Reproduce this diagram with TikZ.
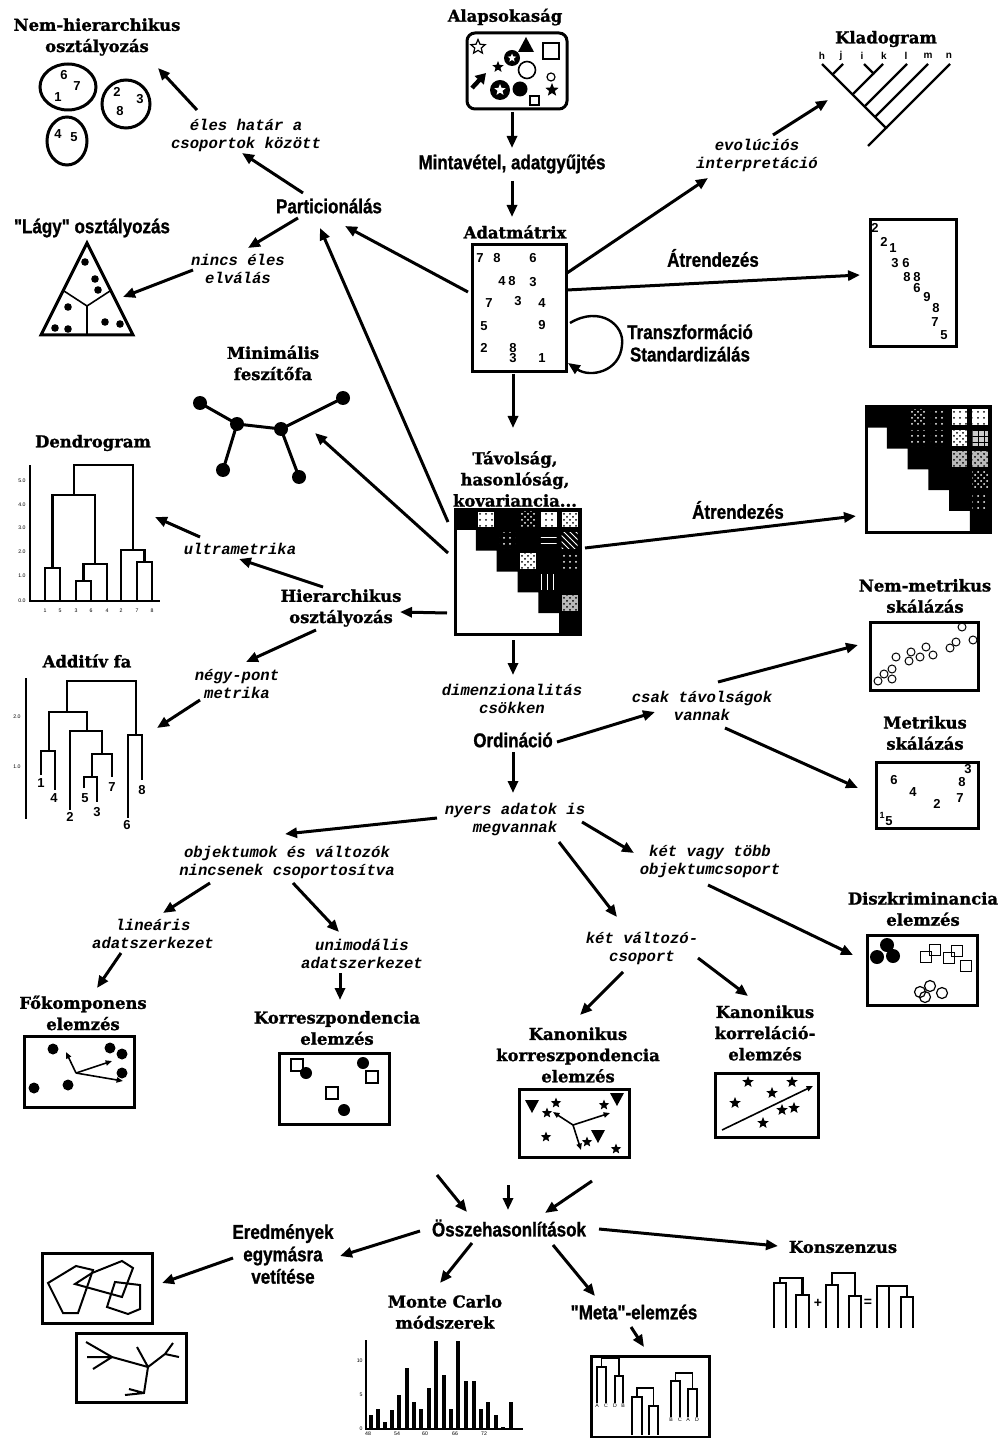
\documentclass[tikz,border=0pt]{standalone}
\usepackage{fontspec}
\newfontfamily\slabfam{DejaVu Serif}[BoldFeatures={FakeBold=1.3}]
\newfontfamily\condfam{Liberation Sans}[FakeStretch=0.85,BoldFeatures={FakeBold=1}]
\newfontfamily\monofam{Liberation Mono}
\newfontfamily\numfam{Liberation Sans}
\usetikzlibrary{arrows.meta,calc,patterns,shapes.geometric}
\newcommand\mcell[6]{% x0,y0,c,row,col,options
  \path[#6] ({#1+(#5-1)*#3+2.5},{#2+(#4-1)*#3+2.5}) rectangle ({#1+#5*#3-2.5},{#2+#4*#3-2.5});}
\newcommand\stair[3]{% x0,y0,c
  \fill (#1,#2) -- ({#1+6*#3},#2) -- ({#1+6*#3},{#2+6*#3}) -- ({#1+5*#3},{#2+6*#3}) -- ({#1+5*#3},{#2+5*#3})
   -- ({#1+4*#3},{#2+5*#3}) -- ({#1+4*#3},{#2+4*#3}) -- ({#1+3*#3},{#2+4*#3}) -- ({#1+3*#3},{#2+3*#3})
   -- ({#1+2*#3},{#2+3*#3}) -- ({#1+2*#3},{#2+2*#3}) -- ({#1+1*#3},{#2+2*#3}) -- ({#1+1*#3},{#2+1*#3})
   -- (#1,{#2+#3}) -- cycle;}
\begin{document}
\begin{tikzpicture}[x=0.5pt,y=-0.5pt,
  slabf/.style={font=\slabfam\bfseries\fontsize{8.2}{10.6}\selectfont, align=center, inner sep=0pt},
  condf/.style={font=\condfam\bfseries\fontsize{10}{11.2}\selectfont, align=center, inner sep=0pt},
  monof/.style={font=\monofam\bfseries\itshape\fontsize{7.8}{9}\selectfont, align=center, inner sep=0pt},
  numf/.style={font=\numfam\bfseries\fontsize{6.5}{7}\selectfont, inner sep=0pt},
  tinyf/.style={font=\numfam\fontsize{2.6}{3}\selectfont, inner sep=0pt},
  arr/.style={line width=1.5pt, -{Triangle[length=6pt,width=5pt]}},
  sarr/.style={line width=0.8pt, -{Triangle[length=3.2pt,width=2.6pt]}},
  bx/.style={draw, line width=1.5pt, inner sep=0pt},
  pstar/.style={star, star points=5, star point ratio=2.3, fill=black, inner sep=0pt, minimum size=#1},
  wdots/.style={fill=white, postaction={pattern=dots}},
  wcross/.style={fill=white, postaction={pattern=crosshatch dots}},
  bdots/.style={fill=black, postaction={pattern=dots, pattern color=white}},
  bcross/.style={fill=black, postaction={pattern=crosshatch dots, pattern color=white}},
  bhl/.style={fill=black, postaction={pattern=horizontal lines, pattern color=white}},
  bvl/.style={fill=black, postaction={pattern=vertical lines, pattern color=white}},
  bnw/.style={fill=black, postaction={pattern=north west lines, pattern color=white}},
  gcell/.style={fill=gray!55, postaction={pattern=crosshatch dots}},
  dgcell/.style={fill=gray!40, postaction={pattern=grid}},
  tree/.style={line width=1.3pt},
]
\useasboundingbox (0,0) rectangle (1007,1438);
\fill[white] (0,0) rectangle (1007,1438);

%================ TOP CENTRE =================
\node[slabf] (alapT) at (505,17) {Alapsokaság};
\node[bx, rounded corners=4pt, minimum width=50pt, minimum height=38pt] (alapB) at (517,71) {};
% population contents
\node[star, star points=5, star point ratio=2.2, draw, line width=0.6pt, inner sep=0pt, minimum size=7.5pt] at (478,47) {};
\fill (526,37) -- (534,52) -- (518,52) -- cycle;
\draw[line width=1pt] (543,43) rectangle (559,59);
\fill (512,58) circle (8); \node[pstar=4.5pt, fill=white] at (512,58) {};
\node[pstar=6pt] at (498,67) {};
\draw[line width=0.8pt] (527,70) circle (8.5);
\draw[line width=0.6pt] (551,77) circle (4);
\draw[line width=2.2pt, -{Triangle[length=5pt,width=6pt]}] (472,88) -- (486,73);
\fill (500,90) circle (10); \node[pstar=6pt, fill=white] at (500,90) {};
\fill (520,89) circle (7.5);
\draw[line width=0.7pt] (530,96) rectangle (539,105);
\node[pstar=7pt] at (552,90) {};

\node[condf] (minta) at (512,164) {Mintavétel, adatgyűjtés};
\node[slabf] (adatT) at (515,232) {Adatmátrix};
\node[bx, minimum width=47pt, minimum height=63.5pt] (adatB) at (519,308.5) {};
\foreach \x/\y/\t in {480/258/7, 497/258/8, 533/258/6, 502/281/4, 512/281/8, 533/282/3,
  489/303/7, 518/301/3, 542/303/4, 484/326/5, 542/325/9, 484/348/2, 513/348/8, 513/358/3, 542/358/1}
  \node[numf] at (\x,\y) {\t};
\node[condf] (trans) at (690,343) {Transzformáció\\Standardizálás};
\node[slabf] (tavT) at (515,479) {Távolság,\\hasonlóság,\\kovariancia...};

% distance matrix
\stair{455}{509}{20.833}
\mcell{455}{509}{20.833}{1}{2}{wdots}
\mcell{455}{509}{20.833}{1}{4}{bcross}
\mcell{455}{509}{20.833}{1}{5}{wdots}
\mcell{455}{509}{20.833}{1}{6}{wcross}
\mcell{455}{509}{20.833}{2}{3}{bdots}
\mcell{455}{509}{20.833}{2}{5}{bhl}
\mcell{455}{509}{20.833}{2}{6}{bnw}
\mcell{455}{509}{20.833}{3}{4}{wcross}
\mcell{455}{509}{20.833}{3}{6}{bdots}
\mcell{455}{509}{20.833}{4}{5}{bvl}
\mcell{455}{509}{20.833}{5}{6}{gcell}
\node[bx, minimum width=62.5pt, minimum height=62.5pt] (tavM) at (517.5,571.5) {};

%================ TOP RIGHT =================
\node[condf] (atr1) at (713,258) {Átrendezés};
\node[bx, minimum width=43pt, minimum height=63.5pt] (reord1) at (913,283.5) {};
\foreach \x/\y/\t in {875/228/2, 884/242/2, 893/248/1, 895/263/3, 906/263/6, 907/277/8, 917/277/8,
  917/288/6, 927/297/9, 936/308/8, 935/322/7, 944/335/5}
  \node[numf] at (\x,\y) {\t};
\node[monof] (evol) at (757,155) {evolúciós\\interpretáció};
\node[slabf] (kladT) at (886,39) {Kladogram};
\coordinate (kladG) at (828,100);
\foreach \x/\t in {822/h, 841/j, 862/i, 884/k, 906/l, 928/m, 949/n}
  \node[font=\numfam\bfseries\fontsize{5}{6}\selectfont, inner sep=0pt] at (\x,56) {\t};
\draw[line width=1.2pt] (822,64) -- (886,128) -- (868,146);
\draw[line width=1.2pt] (886,128) -- (950,64);
\draw[line width=1.2pt] (843,64) -- (832.5,74.5);
\draw[line width=1.2pt] (864,64) -- (873.5,73.5) -- (883,64);
\draw[line width=1.2pt] (873.5,73.5) -- (852.5,94.5);
\draw[line width=1.2pt] (907,64) -- (864.5,106.5);
\draw[line width=1.2pt] (928,64) -- (875,117);

%================ TOP LEFT =================
\node[slabf] (nemhT) at (97,37) {Nem-hierarchikus\\osztályozás};
\coordinate (nemhG) at (158,68);
\draw[line width=1.5pt] (68,87) ellipse (28 and 23);
\draw[line width=1.5pt] (126,104) circle (24);
\draw[line width=1.5pt] (67,141) ellipse (20 and 24);
\foreach \x/\y/\t in {64/75/6, 77/86/7, 58/97/1, 117/92/2, 140/99/3, 120/111/8, 58/134/4, 74/137/5}
  \node[numf] at (\x,\y) {\t};
\node[monof] (eles) at (246,135) {éles határ a\\csoportok között};
\node[condf] (part) at (329,206) {Particionálás};
\node[condf] (lagyT) at (92,228) {"Lágy" osztályozás};
\coordinate (lagyG) at (123,297);
\draw[line width=1.5pt, line join=miter] (87,243) -- (133,335) -- (41,335) -- cycle;
\draw[line width=0.8pt] (64,291) -- (87,306) -- (110,291) (87,306) -- (87,335);
\foreach \x/\y in {85/262, 95/279, 98/290, 68/307, 55/328, 68/329, 105/322, 120/324}
  \fill (\x,\y) circle (3.8);
\node[monof] (nincs) at (238,269) {nincs éles\\elválás};

%================ MST / DENDROGRAM =================
\node[slabf] (minT) at (273,363) {Minimális\\feszítőfa};
\coordinate (mstG) at (315,433);
\draw[line width=1.5pt] (200,403) -- (237,424) -- (281,429) -- (343,398) (237,424) -- (223,470) (281,429) -- (299,477);
\foreach \x/\y in {200/403, 237/424, 281/429, 343/398, 223/470, 299/477}
  \fill (\x,\y) circle (7);

\node[slabf] (dendT) at (93,443) {Dendrogram};
\coordinate (dendG) at (155,517);
\draw[tree] (30,465) -- (30,601) -- (160,601);
\draw[tree] (45,601) -- (45,568) -- (60,568) -- (60,601);
\draw[tree] (76,601) -- (76,581) -- (91,581) -- (91,601);
\draw[tree] (83.5,581) -- (83.5,564) -- (107,564) -- (107,601);
\draw[tree] (52.5,568) -- (52.5,495) -- (95,495) -- (95,564);
\draw[tree] (137,601) -- (137,562) -- (152,562) -- (152,601);
\draw[tree] (121,601) -- (121,550) -- (144.5,550) -- (144.5,562);
\draw[tree] (74,495) -- (74,465) -- (133,465) -- (133,550);
\foreach \y/\t in {481/5.0, 505/4.0, 528/3.0, 552/2.0, 576/1.0, 601/0.0}
  \node[tinyf] at (22,\y) {\t};
\foreach \x/\t in {45/1, 60/5, 76/3, 91/6, 107/4, 121/2, 137/7, 152/8}
  \node[tinyf] at (\x,611) {\t};
\node[monof] (ultra) at (240,549) {ultrametrika};
\node[slabf] (hier) at (341,608) {Hierarchikus\\osztályozás};
\node[monof] (negy) at (237,684) {négy-pont\\metrika};
\node[slabf] (addT) at (87,661) {Additív fa};
\coordinate (addG) at (157,728);
\draw[tree] (26,678) -- (26,819);
\node[tinyf] at (17,717) {2.0};
\node[tinyf] at (17,767) {1.0};
\draw[tree] (67,712) -- (67,681) -- (136,681) -- (136,735);
\draw[tree] (49,751) -- (49,712) -- (87,712) -- (87,731);
\draw[tree] (41,775) -- (41,751) -- (55,751) -- (55,790);
\draw[tree] (70,810) -- (70,731) -- (102,731) -- (102,754);
\draw[tree] (92,777) -- (92,754) -- (112,754) -- (112,777);
\draw[tree] (84,788) -- (84,777) -- (97,777) -- (97,802);
\draw[tree] (128,818) -- (128,735) -- (142,735) -- (142,780);
\foreach \x/\y/\t in {41/783/1, 54/798/4, 70/817/2, 85/798/5, 97/812/3, 112/787/7, 127/825/6, 142/790/8}
  \node[numf] at (\x,\y) {\t};

%================ RIGHT MIDDLE =================
\node[condf] (atr2) at (738,510) {Átrendezés};
\stair{866}{407}{20.75}
\mcell{866}{407}{20.75}{1}{3}{bcross}
\mcell{866}{407}{20.75}{1}{4}{bdots}
\mcell{866}{407}{20.75}{1}{5}{wdots}
\mcell{866}{407}{20.75}{1}{6}{wdots}
\mcell{866}{407}{20.75}{2}{3}{bdots}
\mcell{866}{407}{20.75}{2}{4}{bdots}
\mcell{866}{407}{20.75}{2}{5}{wcross}
\mcell{866}{407}{20.75}{2}{6}{dgcell}
\mcell{866}{407}{20.75}{3}{5}{gcell}
\mcell{866}{407}{20.75}{3}{6}{gcell}
\mcell{866}{407}{20.75}{4}{6}{bcross}
\mcell{866}{407}{20.75}{5}{6}{bdots}
\node[bx, minimum width=62pt, minimum height=62.5pt] (reord2) at (928,469.5) {};

\node[monof] (dimen) at (512,699) {dimenzionalitás\\csökken};
\node[condf] (ordi) at (513,740) {Ordináció};
\node[monof] (csak) at (702,706) {csak távolságok\\vannak};
\node[slabf] (nmT) at (925,596) {Nem-metrikus\\skálázás};
\node[bx, minimum width=54pt, minimum height=34pt] (nmB) at (924,656) {};
\foreach \x/\y in {962/627, 973/640, 956/642, 950/648, 926/647, 933/655, 911/652, 920/657,
  909/661, 896/657, 892/669, 884/674, 892/679, 878/681}
  \draw[line width=0.5pt] (\x,\y) circle (4);
\node[slabf] (mT) at (925,733) {Metrikus\\skálázás};
\node[bx, minimum width=51pt, minimum height=33pt] (mB) at (927,795) {};
\foreach \x/\y/\t in {968/769/3, 962/782/8, 894/780/6, 913/792/4, 960/798/7, 937/804/2, 889/821/5}
  \node[numf] at (\x,\y) {\t};
\node[font=\numfam\bfseries\fontsize{4.5}{5}\selectfont, inner sep=0pt] at (882,815) {1};

%================ ORDINATION BRANCHES =================
\node[monof] (nyers) at (515,819) {nyers adatok is\\megvannak};
\node[monof] (objk) at (287,862) {objektumok és változók\\nincsenek csoportosítva};
\node[monof] (lin) at (153,934) {lineáris\\adatszerkezet};
\node[slabf] (fkT) at (83,1013) {Főkomponens\\elemzés};
\node[bx, minimum width=55pt, minimum height=35.5pt] (fkB) at (79,1071.5) {};
\foreach \x/\y in {53/1049, 110/1048, 122/1054, 122/1073, 34/1088, 68/1085}
  \fill (\x,\y) circle (5.5);
\draw[sarr] (76,1073) -- (66,1052);
\draw[sarr] (76,1073) -- (112,1061);
\draw[sarr] (76,1073) -- (123,1081);

\node[monof] (unim) at (362,954) {unimodális\\adatszerkezet};
\node[slabf] (caT) at (337,1028) {Korreszpondencia\\elemzés};
\node[bx, minimum width=55pt, minimum height=35.5pt] (caB) at (334,1088.5) {};
\foreach \x/\y in {297/1065, 372/1077, 332/1093}
  \draw[line width=1pt] (\x-6,\y-6) rectangle (\x+6,\y+6);
\foreach \x/\y in {306/1073, 363/1063, 344/1110}
  \fill (\x,\y) circle (6);

\node[monof] (ketv) at (710,861) {két vagy több\\objektumcsoport};
\node[slabf] (discT) at (923,909) {Diszkriminancia\\elemzés};
\node[bx, minimum width=55pt, minimum height=35pt] (discB) at (922,970) {};
\foreach \x/\y in {877/957, 887/945, 893/956}
  \fill (\x,\y) circle (7);
\foreach \x/\y in {926/957, 935/950, 949/958, 957/951, 966/966}
  \draw[line width=0.6pt] (\x-5.5,\y-5.5) rectangle (\x+5.5,\y+5.5);
\foreach \x/\y in {920/992, 930/986, 925/997, 942/993}
  \draw[line width=0.6pt] (\x,\y) circle (5.5);

\node[monof] (ketc) at (642,948) {két változó-\\csoport};
\node[slabf] (ccaT) at (578,1055) {Kanonikus\\korreszpondencia\\elemzés};
\node[bx, minimum width=55pt, minimum height=34pt] (ccaB) at (574,1123) {};
\foreach \x/\y in {532/1106, 617/1099, 598/1136}
  \fill (\x-7,\y-6) -- (\x+7,\y-6) -- (\x,\y+7) -- cycle;
\foreach \x/\y in {556/1103, 547/1113, 604/1105, 546/1137, 587/1142, 616/1149}
  \node[pstar=5.5pt] at (\x,\y) {};
\draw[sarr] (573,1125) -- (553,1112);
\draw[sarr] (573,1125) -- (610,1113);
\draw[sarr] (573,1125) -- (581,1150);

\node[slabf] (ccorT) at (765,1033) {Kanonikus\\korreláció-\\elemzés};
\node[bx, minimum width=51.5pt, minimum height=32pt] (ccorB) at (766.5,1105) {};
\foreach \x/\y in {748/1082, 792/1082, 772/1093, 735/1103, 782/1110, 794/1108, 763/1123}
  \node[pstar=6pt] at (\x,\y) {};
\draw[sarr] (722,1130) -- (813,1086);

%================ COMPARISONS =================
\coordinate (in1) at (437,1175);
\coordinate (in2) at (508,1185);
\coordinate (in3) at (592,1181);
\node[condf] (ossz) at (509,1228) {Összehasonlítások};
\node[condf] (ered) at (283,1254) {Eredmények\\egymásra\\vetítése};
\node[bx, minimum width=55pt, minimum height=35pt] (eB1) at (97,1288) {};
\draw[line width=1pt] (48,1283) -- (76,1266) -- (93,1270) -- (78,1313) -- (63,1313) -- cycle;
\draw[line width=1pt] (75,1284) -- (92,1273) -- (122,1261) -- (133,1268) -- (122,1297) -- cycle;
\draw[line width=1pt] (115,1282) -- (140,1285) -- (140,1309) -- (128,1314) -- (107,1307) -- cycle;
\node[bx, minimum width=55pt, minimum height=34.5pt] (eB2) at (131,1367.5) {};
\draw[line width=1pt] (86,1342) -- (112,1357) -- (148,1367);
\draw[line width=1pt] (87,1357) -- (112,1357) (93,1369) -- (112,1357);
\draw[line width=1pt] (137,1347) -- (148,1367) -- (165,1354) -- (173,1343) (165,1354) -- (179,1357);
\draw[line width=1pt] (148,1367) -- (144,1393) -- (125,1395) (144,1393) -- (129,1389);

\node[slabf] (monteT) at (445,1312) {Monte Carlo\\módszerek};
\foreach \x/\h in {371/2, 378/3, 385/1, 392/2.8, 399/5, 407/9, 414/4, 421/3, 429/6, 436/12.9,
  444/8, 451/3, 458/12.9, 466/7, 474/7, 481/3, 488/4, 496/2, 503/0.25, 511/4, 520/0.15}
  \fill ({\x-2.2},1429) rectangle ({\x+2.2},{1429-6.8*\h});
\draw[line width=1pt] (366,1340) -- (366,1429) -- (523,1429);
\foreach \y/\t in {1361/10, 1395/5, 1429/0}
  \node[tinyf, anchor=east] at (363,\y) {\t};
\foreach \x/\t in {368/48, 397/54, 425/60, 455/66, 484/72}
  \node[tinyf] at (\x,1434) {\t};

\node[condf] (metaT) at (634,1312) {"Meta"-elemzés};
\node[bx, minimum width=59pt, minimum height=40.5pt] (metaB) at (650,1396.5) {};
\draw[line width=0.8pt] (597,1403) -- (597,1367) -- (606,1367) -- (606,1403);
\draw[line width=0.8pt] (615,1403) -- (615,1376) -- (623,1376) -- (623,1403);
\draw[line width=0.8pt] (601.5,1367) -- (601.5,1358) -- (619,1358) -- (619,1376);
\draw[line width=0.8pt] (632,1435) -- (632,1397) -- (642,1397) -- (642,1435);
\draw[line width=0.8pt] (649,1435) -- (649,1406) -- (658,1406) -- (658,1435);
\draw[line width=0.8pt] (637,1397) -- (637,1388) -- (653.5,1388) -- (653.5,1406);
\draw[line width=0.8pt] (671,1417) -- (671,1381) -- (680,1381) -- (680,1417);
\draw[line width=0.8pt] (688,1417) -- (688,1389) -- (697,1389) -- (697,1417);
\draw[line width=0.8pt] (675.5,1381) -- (675.5,1373) -- (692.5,1373) -- (692.5,1389);
\foreach \x/\t in {597/A, 606/C, 615/D, 623/B}
  \node[tinyf] at (\x,1406) {\t};
\foreach \x/\t in {671/B, 680/C, 688/A, 697/D}
  \node[tinyf] at (\x,1420) {\t};

\node[slabf] (konszT) at (843,1247) {Konszenzus};
\draw[tree] (774,1328) -- (774,1283) -- (786,1283) -- (786,1328);
\draw[tree] (796,1328) -- (796,1295) -- (809,1295) -- (809,1328);
\draw[tree] (780,1283) -- (780,1278) -- (802.5,1278) -- (802.5,1295);
\node[font=\numfam\bfseries\fontsize{7}{8}\selectfont, inner sep=0pt] at (818,1303) {+};
\draw[tree] (826,1328) -- (826,1285) -- (838,1285) -- (838,1328);
\draw[tree] (849,1328) -- (849,1296) -- (861,1296) -- (861,1328);
\draw[tree] (832,1285) -- (832,1273) -- (855,1273) -- (855,1296);
\node[font=\numfam\bfseries\fontsize{7}{8}\selectfont, inner sep=0pt] at (868,1303) {=};
\draw[tree] (877,1328) -- (877,1286) -- (907,1286) -- (907,1297);
\draw[tree] (889,1286) -- (889,1328);
\draw[tree] (901,1328) -- (901,1297) -- (913,1297) -- (913,1328);

%================ CONNECTORS =================
\draw[arr] ($(alapB)+(-5,41)$) -- ($(minta)+(0,-16)$);
\draw[arr] ($(minta)+(0,17)$) -- ($(adatT)+(-3,-15)$);
\draw[arr] ($(adatB)+(-6,65.5)$) -- ($(tavT)+(-2,-51)$);
\draw[arr] ($(adatB)+(48,-35.5)$) -- ($(evol)+(-49,23)$);
\draw[arr] ($(evol)+(16,-20)$) -- (kladG);
\draw[arr] ($(adatB)+(48,-18.5)$) -- ($(reord1)+(-53,-8.5)$);
\draw[line width=1.2pt, -{Triangle[length=6pt,width=5pt]}] ($(adatB)+(51,14.5)$)
   .. controls ($(adatB)+(81,-3.5)$) and ($(adatB)+(106,16.5)$) .. ($(adatB)+(103,36.5)$)
   .. controls ($(adatB)+(101,63.5)$) and ($(adatB)+(71,69.5)$) .. ($(adatB)+(49,54.5)$);
\draw[arr] ($(adatB)+(-51,-16.5)$) -- ($(part)+(16,20)$);
\draw[arr] ($(tavM)+(-69.5,-49.5)$) -- ($(part)+(-9,22)$);
\draw[arr] ($(part)+(-26,-13)$) -- ($(eles)+(-4,18)$);
\draw[arr] ($(eles)+(-49,-25)$) -- (nemhG);
\draw[arr] ($(part)+(-31,12)$) -- ($(nincs)+(10,-21)$);
\draw[arr] ($(nincs)+(-45,1)$) -- (lagyG);
\draw[arr] ($(tavM)+(-69.5,-18.5)$) -- (mstG);
\draw[arr] ($(tavM)+(-70.5,41.5)$) -- ($(hier)+(59,4)$);
\draw[arr] ($(hier)+(-18,-21)$) -- ($(ultra)+(-1,10)$);
\draw[arr] ($(ultra)+(-40,-12)$) -- (dendG);
\draw[arr] ($(hier)+(-25,22)$) -- ($(negy)+(9,-22)$);
\draw[arr] ($(negy)+(-37,16)$) -- (addG);
\draw[arr] ($(tavM)+(67.5,-23.5)$) -- ($(reord2)+(-72,46.5)$);
\draw[arr] ($(tavM)+(-4.5,68.5)$) -- ($(dimen)+(1,-24)$);
\draw[arr] ($(ordi)+(44,2)$) -- ($(csak)+(-47,6)$);
\draw[arr] ($(csak)+(16,-24)$) -- ($(nmB)+(-66,-11)$);
\draw[arr] ($(csak)+(23,22)$) -- ($(mB)+(-69,-7)$);
\draw[arr] ($(ordi)+(0,12)$) -- ($(nyers)+(-2,-26)$);
\draw[arr] ($(nyers)+(-78,-1)$) -- ($(objk)+(-2,-28)$);
\draw[arr] ($(objk)+(-77,21)$) -- ($(lin)+(10,-21)$);
\draw[arr] ($(lin)+(-32,19)$) -- ($(fkT)+(14,-25)$);
\draw[arr] ($(objk)+(6,21)$) -- ($(unim)+(-23,-22)$);
\draw[arr] ($(unim)+(-22,19)$) -- ($(caT)+(3,-28)$);
\draw[arr] ($(nyers)+(67,3)$) -- ($(ketv)+(-76,-8)$);
\draw[arr] ($(nyers)+(44,23)$) -- ($(ketc)+(-25,-31)$);
\draw[arr] ($(ketv)+(-2,24)$) -- ($(discB)+(-69,-15)$);
\draw[arr] ($(ketc)+(-19,24)$) -- ($(ccaT)+(2,-40)$);
\draw[arr] ($(ketc)+(56,10)$) -- ($(ccorT)+(-17,-37)$);
\draw[arr] (in1) -- ($(ossz)+(-42,-16)$);
\draw[arr] (in2) -- ($(ossz)+(-1,-18)$);
\draw[arr] (in3) -- ($(ossz)+(36,-15)$);
\draw[arr] ($(ossz)+(-89,3)$) -- ($(ered)+(57,2)$);
\draw[arr] ($(ered)+(-50,4)$) -- ($(eB1)+(65,-5)$);
\draw[arr] ($(ossz)+(-37,15)$) -- ($(monteT)+(-5,-29)$);
\draw[arr] ($(ossz)+(44,17)$) -- ($(metaT)+(-39,-16)$);
\draw[arr] ($(metaT)+(-3,15)$) -- ($(metaB)+(-6,-49.5)$);
\draw[arr] ($(ossz)+(90,1)$) -- ($(konszT)+(-65,-1)$);
\end{tikzpicture}
\end{document}
